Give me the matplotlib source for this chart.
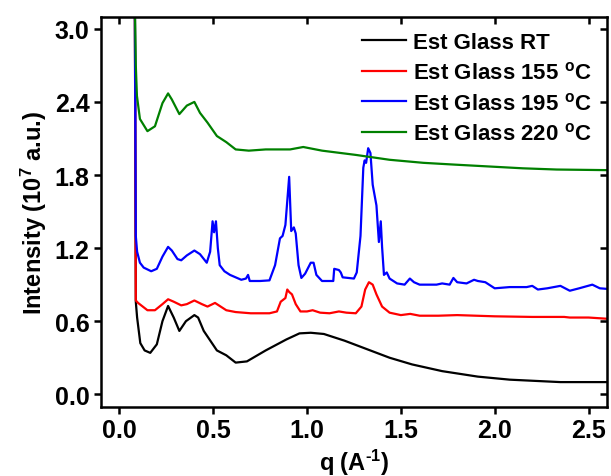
import numpy as np
import matplotlib
matplotlib.use('Agg')
import matplotlib.pyplot as plt

plt.rcParams['font.family'] = ['Liberation Sans', 'DejaVu Sans']
plt.rcParams['font.weight'] = 'bold'
plt.rcParams['mathtext.fontset'] = 'custom'
plt.rcParams['mathtext.rm'] = 'Liberation Sans:bold'
plt.rcParams['mathtext.bf'] = 'Liberation Sans:bold'
plt.rcParams['mathtext.default'] = 'bf'

# q values (A^-1) and intensities (10^7 a.u.)
q_rt = [0.083, 0.088, 0.095, 0.112, 0.135, 0.165, 0.20, 0.23, 0.26, 0.29, 0.32,
        0.355, 0.40, 0.42, 0.45, 0.52, 0.57, 0.62, 0.68, 0.78, 0.89, 0.96,
        1.02, 1.09, 1.20, 1.32, 1.44, 1.56, 1.72, 1.91, 2.08, 2.35, 2.60]
i_rt = [3.2, 0.76, 0.63, 0.42, 0.36, 0.34, 0.41, 0.60, 0.725, 0.63, 0.52,
        0.60, 0.65, 0.63, 0.52, 0.36, 0.32, 0.26, 0.27, 0.36, 0.45, 0.50,
        0.505, 0.495, 0.44, 0.37, 0.30, 0.245, 0.19, 0.145, 0.12, 0.10, 0.10]

q_155 = [0.083, 0.088, 0.10, 0.15, 0.19, 0.23, 0.26, 0.29, 0.33, 0.36, 0.40,
         0.44, 0.47, 0.51, 0.53, 0.57, 0.62, 0.70, 0.80, 0.84, 0.86, 0.885,
         0.895, 0.905, 0.92, 0.94, 0.965, 1.00, 1.03, 1.07, 1.12, 1.17, 1.21,
         1.26, 1.29, 1.31, 1.33, 1.35, 1.37, 1.40, 1.44, 1.50, 1.55, 1.60,
         1.70, 1.80, 1.90, 2.00, 2.20, 2.37, 2.40, 2.50, 2.60]
i_155 = [3.2, 0.77, 0.75, 0.69, 0.69, 0.74, 0.78, 0.76, 0.73, 0.74, 0.77,
         0.74, 0.72, 0.75, 0.73, 0.69, 0.675, 0.665, 0.665, 0.68, 0.76, 0.79,
         0.86, 0.84, 0.82, 0.74, 0.68, 0.68, 0.69, 0.67, 0.665, 0.68, 0.67,
         0.665, 0.72, 0.86, 0.92, 0.90, 0.82, 0.72, 0.67, 0.65, 0.66, 0.645,
         0.645, 0.65, 0.645, 0.64, 0.635, 0.635, 0.63, 0.63, 0.62]

q_195 = [0.083, 0.088, 0.095, 0.11, 0.13, 0.17, 0.20, 0.23, 0.26, 0.28, 0.31,
         0.33, 0.36, 0.40, 0.43, 0.466, 0.484, 0.497, 0.505, 0.515, 0.525,
         0.535, 0.56, 0.59, 0.65, 0.675, 0.686, 0.695, 0.75, 0.80, 0.83,
         0.856, 0.87, 0.885, 0.905, 0.916, 0.93, 0.94, 0.955, 0.97, 0.99,
         1.02, 1.035, 1.05, 1.08, 1.14, 1.145, 1.17, 1.18, 1.19, 1.25, 1.265,
         1.285, 1.30, 1.307, 1.315, 1.326, 1.338, 1.35, 1.37, 1.383, 1.393,
         1.40, 1.41, 1.425, 1.44, 1.48, 1.52, 1.548, 1.57, 1.60, 1.69, 1.72,
         1.76, 1.78, 1.80, 1.85, 1.89, 1.91, 1.95, 2.00, 2.08, 2.17, 2.20,
         2.23, 2.28, 2.35, 2.40, 2.45, 2.52, 2.56, 2.60]
i_195 = [3.2, 1.30, 1.17, 1.08, 1.04, 1.01, 1.03, 1.13, 1.21, 1.18, 1.11,
         1.10, 1.14, 1.18, 1.15, 1.08, 1.17, 1.42, 1.33, 1.42, 1.20,
         1.06, 1.01, 0.98, 0.94, 0.95, 0.98, 0.93, 0.93, 0.935, 1.06,
         1.28, 1.30, 1.39, 1.785, 1.34, 1.37, 1.32, 1.06, 0.955, 0.99,
         1.08, 1.08, 0.98, 0.93, 0.93, 1.03, 1.02, 1.00, 0.96, 0.95, 1.00,
         1.30, 1.86, 1.92, 1.90, 2.02, 1.98, 1.72, 1.55, 1.25, 1.42,
         1.21, 0.98, 1.00, 0.95, 0.91, 0.90, 0.95, 0.92, 0.90, 0.90, 0.91,
         0.90, 0.955, 0.92, 0.91, 0.94, 0.93, 0.92, 0.87, 0.88, 0.88, 0.89,
         0.86, 0.87, 0.89, 0.85, 0.87, 0.90, 0.87, 0.865]

q_220 = [0.083, 0.088, 0.094, 0.11, 0.15, 0.19, 0.23, 0.26, 0.28, 0.32, 0.36,
         0.40, 0.43, 0.47, 0.52, 0.57, 0.62, 0.69, 0.78, 0.91, 0.98, 1.08,
         1.26, 1.44, 1.62, 1.79, 1.97, 2.15, 2.33, 2.60]
i_220 = [3.2, 2.70, 2.45, 2.26, 2.16, 2.20, 2.39, 2.47, 2.42, 2.30, 2.37,
         2.40, 2.31, 2.23, 2.12, 2.07, 2.01, 2.00, 2.01, 2.01, 2.03, 2.00,
         1.965, 1.925, 1.90, 1.885, 1.87, 1.855, 1.845, 1.84]

labels = ['Est Glass RT', r'Est Glass 155 $^{\mathbf{o}}$C',
          r'Est Glass 195 $^{\mathbf{o}}$C', r'Est Glass 220 $^{\mathbf{o}}$C']
colors = ['black', '#ff0000', '#0000ff', '#008000']

xticks = np.arange(0, 2.6, 0.5)
yticks = np.arange(0, 3.01, 0.6)

fig = plt.figure(figsize=(6.11, 4.77), dpi=100)
ax = fig.add_axes([0.1645, 0.1445, 0.8295, 0.8185])

series = [(q_rt, i_rt), (q_155, i_155), (q_195, i_195), (q_220, i_220)]
for (q, inten), lab, c in zip(series, labels, colors):
    ax.plot(q, inten, color=c, lw=1.6, label=lab)

ax.set_xlim(-0.1, 2.6)
ax.set_ylim(-0.105, 3.1)
ax.set_xticks(xticks)
ax.set_yticks(yticks)
ax.set_xticklabels([f'{v:.1f}' for v in xticks])
ax.set_yticklabels([f'{v:.1f}' for v in yticks])

for s in ax.spines.values():
    s.set_linewidth(1.8)
ax.tick_params(direction='out', length=5, width=1.8, labelsize=18, pad=3)

# mirrored ticks pointing inward on top and right
top = ax.secondary_xaxis('top')
top.set_xticks(xticks)
top.tick_params(direction='in', length=5, width=1.8, labeltop=False)
right = ax.secondary_yaxis('right')
right.set_yticks(yticks)
right.tick_params(direction='in', length=5, width=1.8, labelright=False)

ax.set_xlabel(r'q (A$^{\text{-1}}$)', fontsize=17, fontweight='bold', labelpad=3)
ax.set_ylabel(r'Intensity (10$^{\mathbf{7}}$ a.u.)', fontsize=17, fontweight='bold', labelpad=4)

ax.legend(loc='upper right', bbox_to_anchor=(1.0, 1.0), frameon=False,
          fontsize=16, handlelength=2.0, handletextpad=0.3, labelspacing=0.38,
          borderaxespad=0.3)

fig.savefig('out.png', dpi=100)
